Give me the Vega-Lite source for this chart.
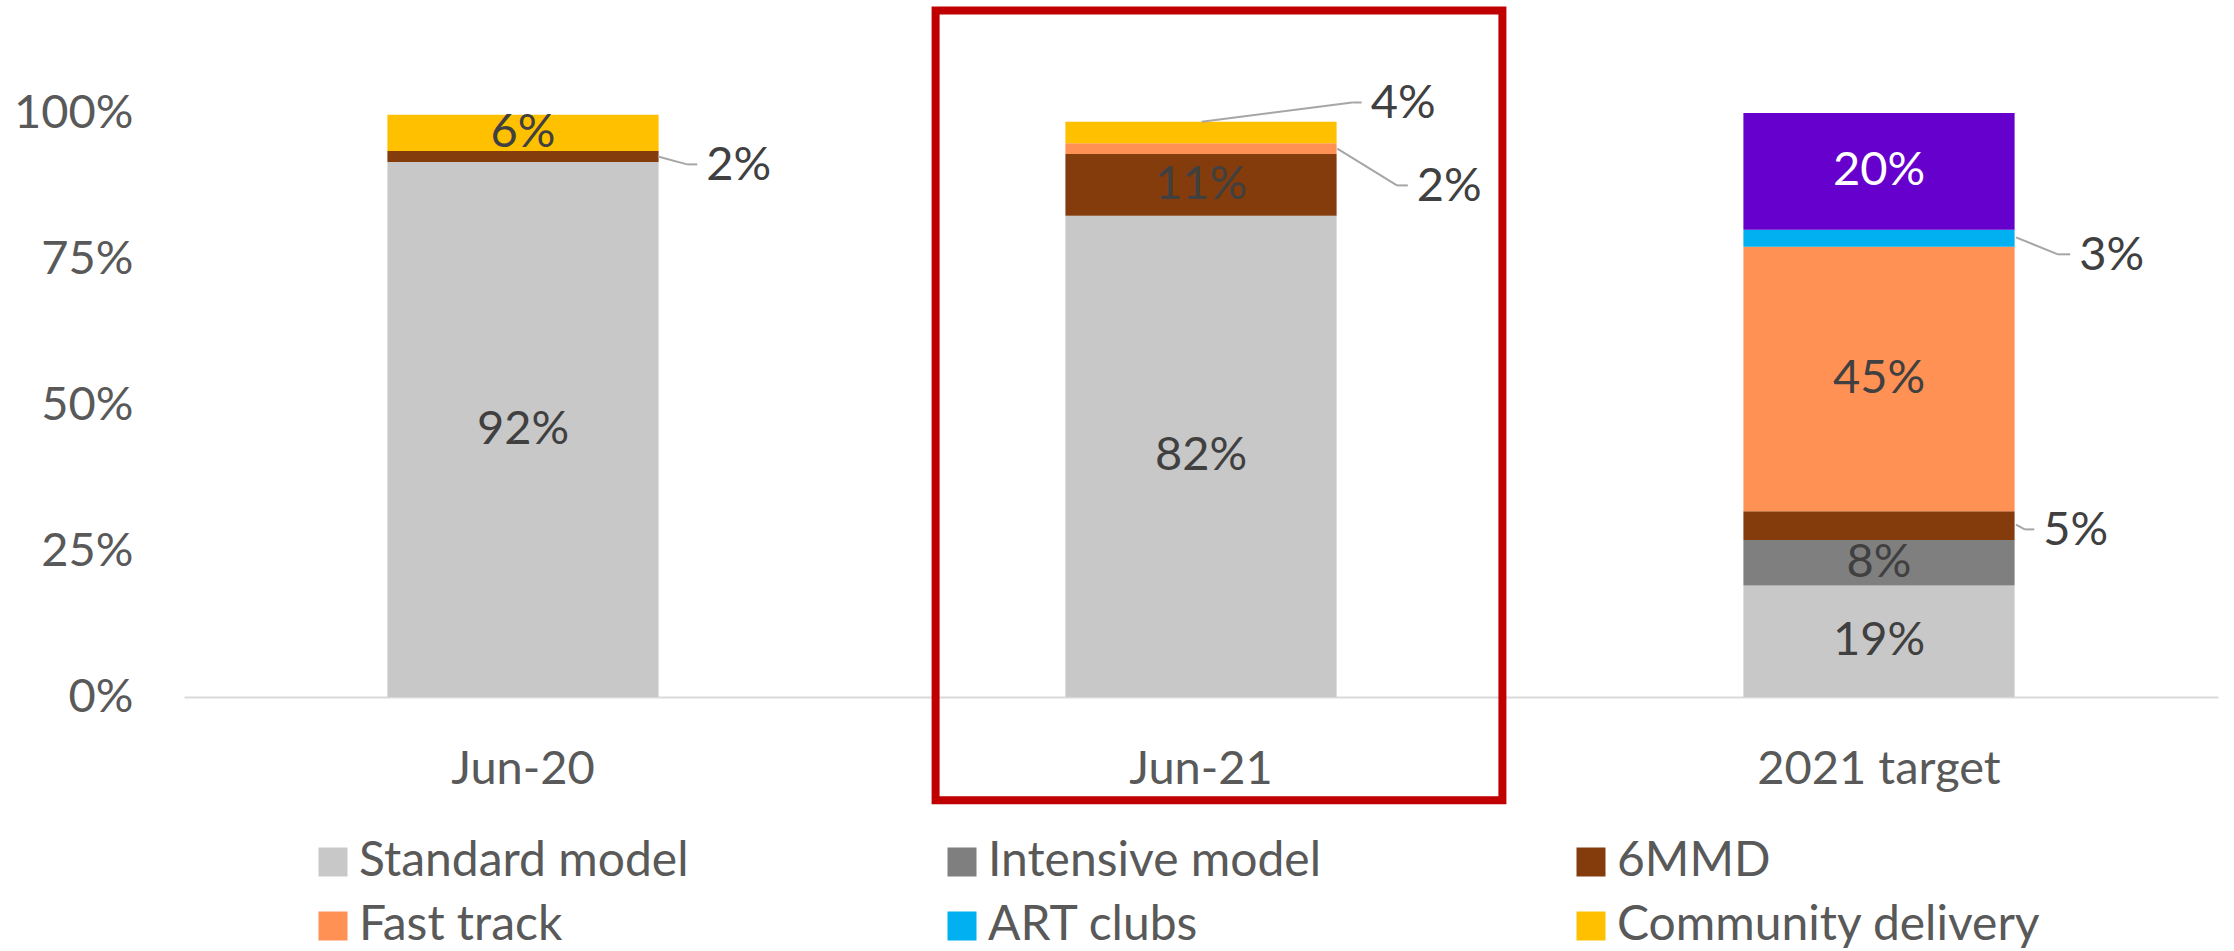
{
  "$schema": "https://vega.github.io/schema/vega-lite/v6.json",
  "width": 2034,
  "height": 584,
  "autosize": {"type": "none"},
  "padding": {"left": 184, "top": 113, "right": 16, "bottom": 254},
  "background": "white",
  "config": {
    "font": "Lato",
    "view": {"stroke": null},
    "axis": {"labelFont": "Lato", "labelFontSize": 47, "labelColor": "#595959", "title": null, "grid": false, "ticks": false, "tickSize": 0, "labelLimit": 600}
  },
  "datasets": {
    "shares": [
      {"period": "Jun-20", "series": "Standard model", "value": 0.916},
      {"period": "Jun-20", "series": "6MMD", "value": 0.019},
      {"period": "Jun-20", "series": "Community delivery", "value": 0.062},
      {"period": "Jun-21", "series": "Standard model", "value": 0.824},
      {"period": "Jun-21", "series": "6MMD", "value": 0.106},
      {"period": "Jun-21", "series": "Fast track", "value": 0.018},
      {"period": "Jun-21", "series": "Community delivery", "value": 0.037},
      {"period": "2021 target", "series": "Standard model", "value": 0.191},
      {"period": "2021 target", "series": "Intensive model", "value": 0.078},
      {"period": "2021 target", "series": "6MMD", "value": 0.049},
      {"period": "2021 target", "series": "Fast track", "value": 0.453},
      {"period": "2021 target", "series": "ART clubs", "value": 0.029},
      {"period": "2021 target", "series": "Other", "value": 0.200}
    ],
    "callouts": [
      {"period": "Jun-20", "series": "6MMD", "label": "2%", "x0": 0.699, "y0": 0.9255, "x1": 0.742, "y1": 0.912, "x2": 0.757},
      {"period": "Jun-21", "series": "Community delivery", "label": "4%", "x0": 1.501, "y0": 0.985, "x1": 1.723, "y1": 1.018, "x2": 1.737},
      {"period": "Jun-21", "series": "Fast track", "label": "2%", "x0": 1.701, "y0": 0.939, "x1": 1.789, "y1": 0.876, "x2": 1.805},
      {"period": "2021 target", "series": "ART clubs", "label": "3%", "x0": 2.702, "y0": 0.787, "x1": 2.764, "y1": 0.758, "x2": 2.782},
      {"period": "2021 target", "series": "6MMD", "label": "5%", "x0": 2.702, "y0": 0.295, "x1": 2.715, "y1": 0.287, "x2": 2.729}
    ],
    "highlight": [{"period": "Jun-21"}]
  },
  "layer": [
    {
      "layer": [
        {
          "data": {"name": "shares"},
          "transform": [
            {"calculate": "indexof(['Standard model','Intensive model','6MMD','Fast track','ART clubs','Community delivery','Other'], datum.series)", "as": "ord"},
            {"stack": "value", "groupby": ["period"], "sort": [{"field": "ord"}], "as": ["v0", "v1"]}
          ],
          "mark": {"type": "bar", "width": {"band": 0.4}},
          "encoding": {
            "x": {
              "field": "period", "type": "nominal",
              "scale": {"domain": ["Jun-20", "Jun-21", "2021 target"], "paddingInner": 0, "paddingOuter": 0},
              "axis": {"labelAngle": 0, "domain": true, "domainColor": "#D9D9D9", "domainWidth": 2, "labelBaseline": "alphabetic", "labelPadding": 86, "ticks": false, "tickSize": 0, "labelLimit": 600}
            },
            "y": {
              "field": "v0", "type": "quantitative",
              "scale": {"domain": [0, 1], "nice": false},
              "axis": {"values": [0, 0.25, 0.5, 0.75, 1], "format": ".0%", "domain": false, "ticks": false, "tickSize": 0, "labelPadding": 51}
            },
            "y2": {"field": "v1"},
            "color": {
              "field": "series", "type": "nominal",
              "scale": {
                "domain": ["Standard model", "Intensive model", "6MMD", "Fast track", "ART clubs", "Community delivery", "Other"],
                "range": ["#C8C8C8", "#7F7F7F", "#843C0C", "#FF9155", "#00B0F0", "#FFC000", "#6600CC"]
              },
              "legend": {
                "values": ["Standard model", "Intensive model", "6MMD", "Fast track", "ART clubs", "Community delivery"],
                "title": null,
                "orient": "none",
                "legendX": 125,
                "legendY": 725,
                "direction": "horizontal",
                "columns": 3,
                "gridAlign": "all",
                "columnPadding": 155,
                "rowPadding": 16,
                "padding": 0,
                "symbolType": "square",
                "symbolSize": 841,
                "symbolStrokeWidth": 0,
                "labelFont": "Lato",
                "labelFontSize": 48,
                "labelColor": "#595959",
                "labelOffset": 2,
                "labelLimit": 800
              }
            }
          }
        },
        {
          "data": {"name": "shares"},
          "transform": [
            {"calculate": "indexof(['Standard model','Intensive model','6MMD','Fast track','ART clubs','Community delivery','Other'], datum.series)", "as": "ord"},
            {"stack": "value", "groupby": ["period"], "sort": [{"field": "ord"}], "as": ["v0", "v1"]},
            {"filter": "datum.value >= 0.06"},
            {"calculate": "(datum.v0 + datum.v1) / 2", "as": "mid"}
          ],
          "mark": {"type": "text", "fontSize": 47, "font": "Lato", "baseline": "middle", "align": "center"},
          "encoding": {
            "x": {"field": "period", "type": "nominal"},
            "y": {"field": "mid", "type": "quantitative"},
            "text": {"field": "value", "type": "quantitative", "format": ".0%"},
            "color": {
              "condition": {"test": "datum.series === 'Other'", "value": "#FFFFFF"},
              "value": "#404040"
            }
          }
        },
        {
          "data": {"name": "highlight"},
          "mark": {"type": "bar", "width": {"band": 0.836}, "xOffset": 18, "fill": "transparent", "stroke": "#C00000", "strokeWidth": 8, "clip": false},
          "encoding": {
            "x": {"field": "period", "type": "nominal"},
            "y": {"datum": 1.1755},
            "y2": {"datum": -0.177}
          }
        }
      ]
    },
    {
      "data": {"name": "callouts"},
      "layer": [
        {
          "mark": {"type": "rule", "color": "#A6A6A6", "strokeWidth": 2},
          "encoding": {
            "x": {"field": "x0", "type": "quantitative", "scale": {"domain": [0, 3], "nice": false, "zero": false}, "axis": null},
            "x2": {"field": "x1"},
            "y": {"field": "y0", "type": "quantitative"},
            "y2": {"field": "y1"}
          }
        },
        {
          "mark": {"type": "rule", "color": "#A6A6A6", "strokeWidth": 2},
          "encoding": {
            "x": {"field": "x1", "type": "quantitative"},
            "x2": {"field": "x2"},
            "y": {"field": "y1", "type": "quantitative"},
            "y2": {"field": "y1"}
          }
        },
        {
          "mark": {"type": "text", "fontSize": 47, "font": "Lato", "baseline": "middle", "align": "left", "dx": 9, "dy": 2, "color": "#404040"},
          "encoding": {
            "x": {"field": "x2", "type": "quantitative"},
            "y": {"field": "y1", "type": "quantitative"},
            "text": {"field": "label"}
          }
        }
      ]
    }
  ],
  "resolve": {"scale": {"x": "independent"}}
}
